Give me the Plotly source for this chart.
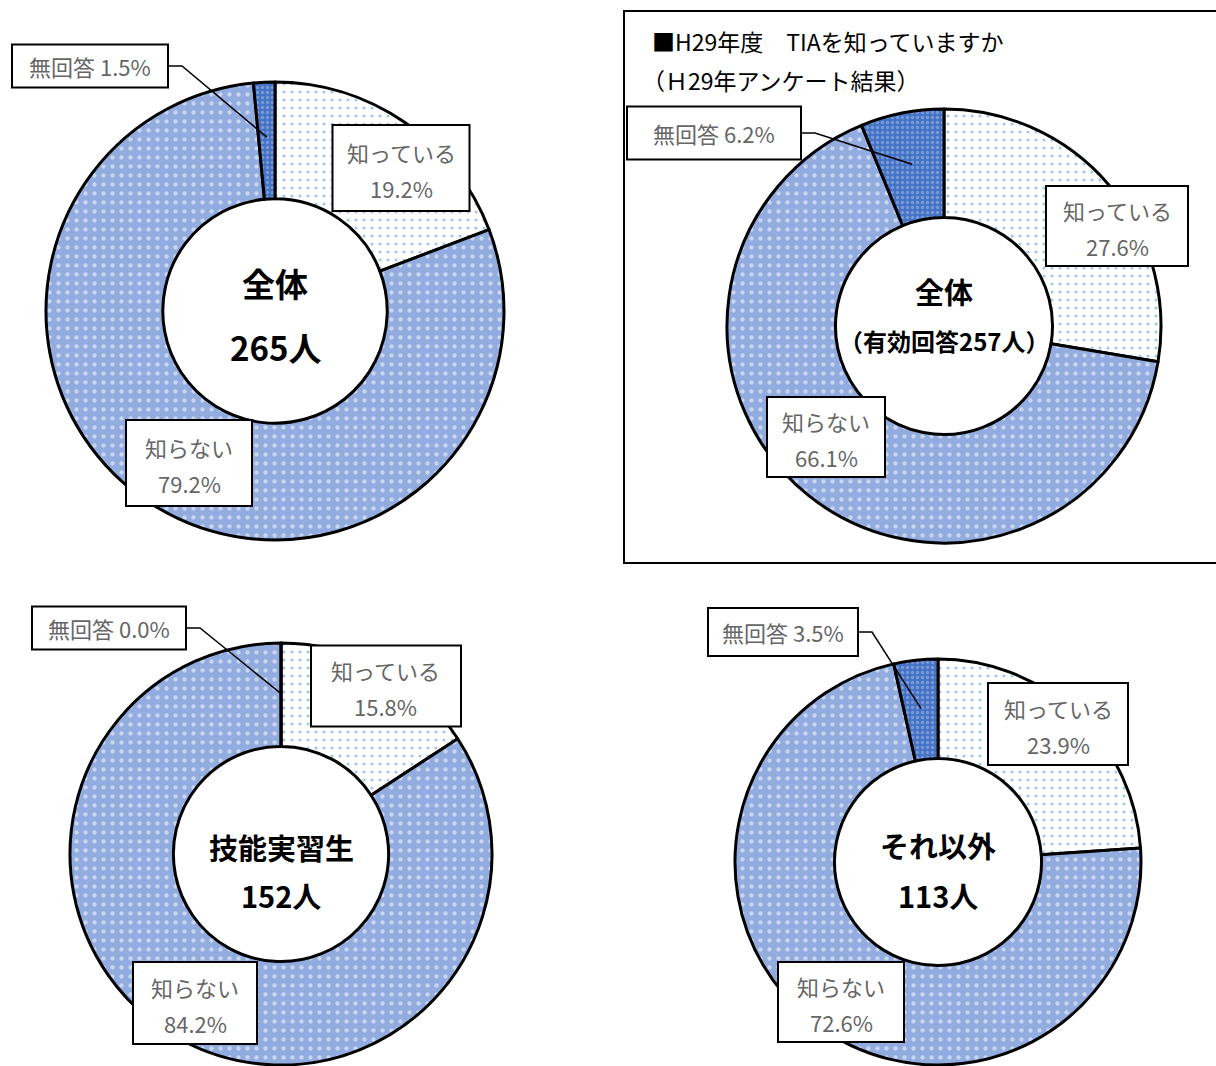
import math

import plotly.graph_objects as go

W, H = 1216, 1066
FONT = "Noto Sans CJK JP"

categories = ["知っている", "知らない", "無回答"]

group_titles = ["全体", "全体", "技能実習生", "それ以外"]
group_subtitles = ["265人", "（有効回答257人）", "152人", "113人"]

pct_all = [19.2, 79.2, 1.5]
pct_h29 = [27.6, 66.1, 6.2]
pct_trainee = [15.8, 84.2, 0.0]
pct_other = [23.9, 72.6, 3.5]

header_lines = ["■H29年度　TIAを知っていますか", "（Ｈ29年アンケート結果）"]

series = [pct_all, pct_h29, pct_trainee, pct_other]

# layout of each donut in pixels: centre x, centre y, outer radius
charts = [
    dict(cx=275, cy=311, r=229, hole=0.49, t_size=33, sub_size=33, t_dy=-28, s_dy=36,
         know_box=(401, 168, 137, 86), dont_box=(189, 463, 126, 86), na_box=(90, 66, 156, 43)),
    dict(cx=944, cy=326, r=217, hole=0.5, t_size=29, sub_size=24, t_dy=-35, s_dy=14,
         know_box=(1117, 226, 142, 80), dont_box=(826, 437, 118, 80), na_box=(714, 133, 174, 53)),
    dict(cx=281, cy=854, r=211, hole=0.51, t_size=29, sub_size=29, t_dy=-7, s_dy=41,
         know_box=(386, 686, 150, 81), dont_box=(195, 1003, 124, 82), na_box=(109, 628, 154, 43)),
    dict(cx=938, cy=862, r=203, hole=0.51, t_size=29, sub_size=29, t_dy=-17, s_dy=33,
         know_box=(1058, 724, 140, 82), dont_box=(841, 1002, 126, 80), na_box=(783, 632, 150, 48)),
]

bg_colors = ["#FFFFFF", "#92ACDF", "#4472C4"]
fg_colors = ["#5B85D6", "#FFFFFF", "#A9BFEA"]
shapes_pat = [".", ".", "."]

px = lambda x: x / W
py = lambda y: 1 - y / H

fig = go.Figure()
annotations = []
shapes = []


def label_box(bx, by, bw, bh):
    shapes.append(dict(type="rect", xref="paper", yref="paper",
                       x0=px(bx - bw / 2), x1=px(bx + bw / 2), y0=py(by + bh / 2), y1=py(by - bh / 2),
                       fillcolor="white", line=dict(color="black", width=2), layer="above"))


def label_text(x, y, text):
    annotations.append(dict(x=px(x), y=py(y), text=text,
                            font=dict(size=22, color="#666666", family=FONT)))


for vals, c, title, sub in zip(series, charts, group_titles, group_subtitles):
    cx, cy, r = c["cx"], c["cy"], c["r"]
    fig.add_trace(go.Pie(
        labels=categories, values=vals, sort=False, direction="clockwise", rotation=0,
        hole=c["hole"], textinfo="none", hoverinfo="label+percent",
        domain=dict(x=[px(cx - r), px(cx + r)], y=[max(0, py(cy + r)), min(1, py(cy - r))]),
        marker=dict(colors=bg_colors, line=dict(color="black", width=3),
                    pattern=dict(shape=shapes_pat, fgcolor=fg_colors, fillmode="overlay",
                                 size=[8, 9, 5], solidity=[0.12, 0.18, 0.35])),
    ))

    # centre texts
    annotations.append(dict(x=px(cx), y=py(cy + c["t_dy"]), text=f"<b>{title}</b>",
                            font=dict(size=c["t_size"], color="black", family=FONT)))
    annotations.append(dict(x=px(cx), y=py(cy + c["s_dy"]), text=f"<b>{sub}</b>",
                            font=dict(size=c["sub_size"], color="black", family=FONT)))

    # leader line from the 無回答 box to the middle of its slice
    bx, by, bw, bh = c["na_box"]
    total = sum(vals)
    mid = (total - vals[2] / 2) / total * 2 * math.pi
    tx = cx + 0.76 * r * math.sin(mid)
    ty = cy - 0.76 * r * math.cos(mid)
    ex = bx + bw / 2
    shapes.append(dict(type="path", xref="paper", yref="paper",
                       path=f"M{px(ex)},{py(by)} L{px(ex + 14)},{py(by)} L{px(tx)},{py(ty)}",
                       line=dict(color="black", width=1.5), layer="above"))

    # label boxes
    for i, key in [(0, "know_box"), (1, "dont_box")]:
        bx, by, bw, bh = c[key]
        label_box(bx, by, bw, bh)
        label_text(bx, by - 16, categories[i])
        label_text(bx, by + 20, f"{vals[i]:.1f}%")
    bx, by, bw, bh = c["na_box"]
    label_box(bx, by, bw, bh)
    label_text(bx, by, f"{categories[2]} {vals[2]:.1f}%")

# header box of the H29 chart
shapes.append(dict(type="rect", xref="paper", yref="paper", x0=px(624), x1=px(1222),
                   y0=py(563), y1=py(11), line=dict(color="black", width=2), layer="below"))
annotations.append(dict(x=px(650), y=py(41), xanchor="left", text=header_lines[0],
                        font=dict(size=23, color="black", family=FONT)))
annotations.append(dict(x=px(640), y=py(80), xanchor="left", text=header_lines[1],
                        font=dict(size=23, color="black", family=FONT)))

for a in annotations:
    a.setdefault("xanchor", "center")
    a.update(xref="paper", yref="paper", showarrow=False, yanchor="middle")

fig.update_layout(width=W, height=H, margin=dict(l=0, r=0, t=0, b=0),
                  paper_bgcolor="white", plot_bgcolor="white", showlegend=False,
                  annotations=annotations, shapes=shapes, font=dict(family=FONT))

fig.write_html("out.html", config={"displayModeBar": False},
               post_script="document.body.style.margin='0';")
